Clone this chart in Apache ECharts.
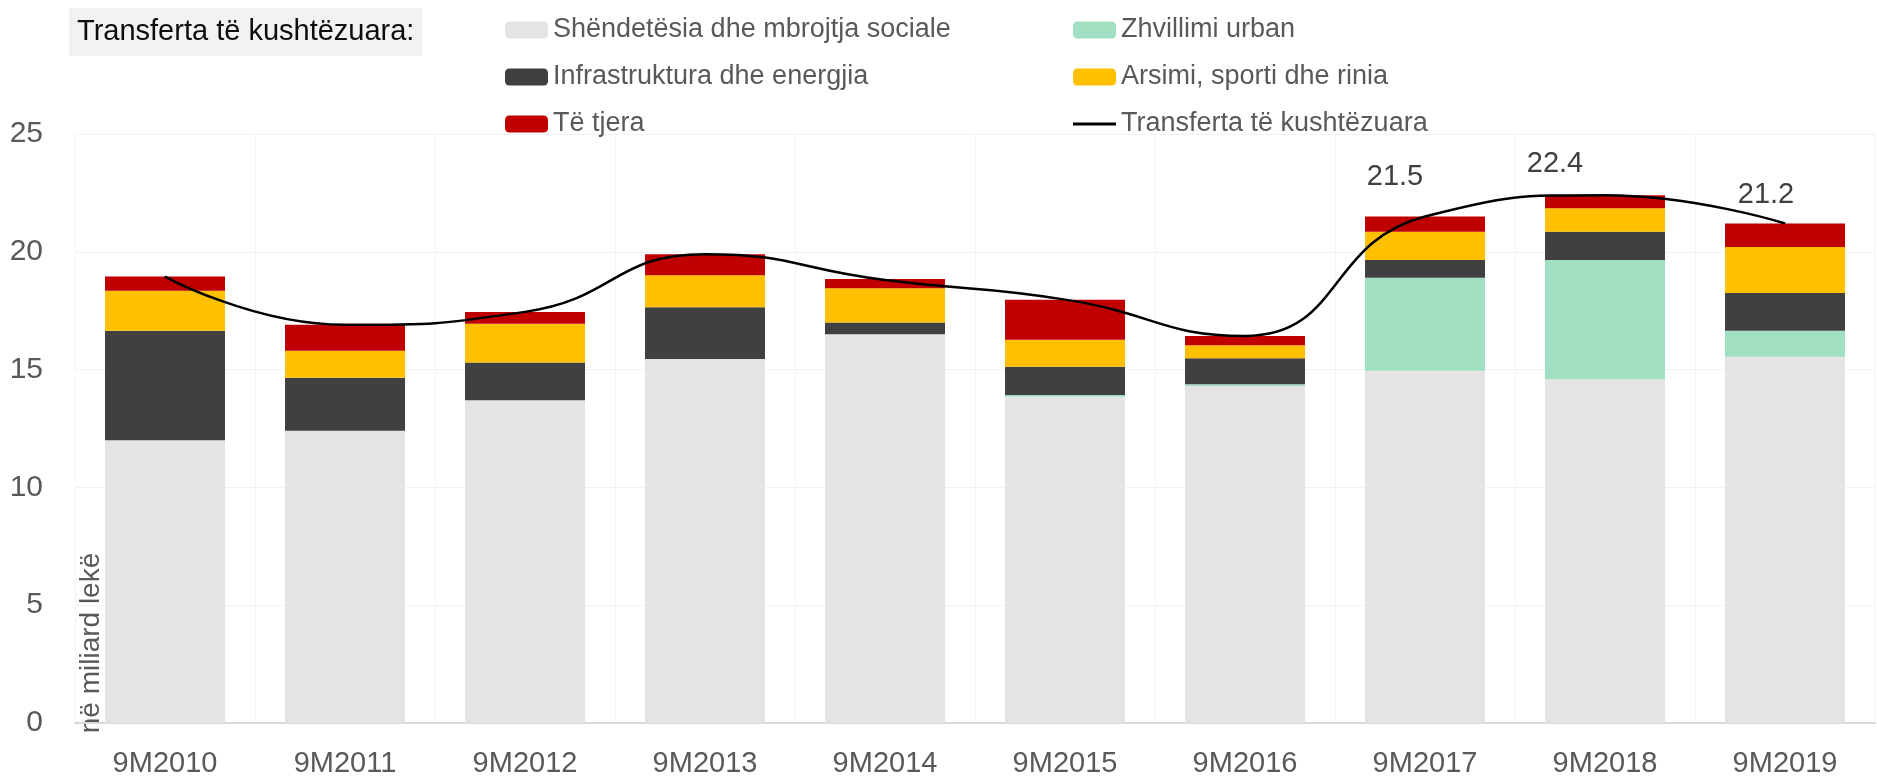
<!DOCTYPE html>
<html>
<head>
<meta charset="utf-8">
<title>Transferta të kushtëzuara</title>
<script src="https://cdn.jsdelivr.net/npm/echarts@6/dist/echarts.min.js"></script>
<style>
    html, body { margin: 0; padding: 0; background: #fff; }
    #chart { width: 1877px; height: 779px; }
</style>
</head>
<body>
<div id="chart"></div>
<script>
// të dhënat, në miliard lekë
var categories = ['9M2010', '9M2011', '9M2012', '9M2013', '9M2014', '9M2015', '9M2016', '9M2017', '9M2018', '9M2019'];
var shendetesia = [12.0, 12.4, 13.7, 15.45, 16.5, 13.85, 14.3, 14.95, 14.6, 15.55];
var urban = [0, 0, 0, 0, 0, 0.07, 0.08, 3.95, 5.05, 1.1];
var infrastruktura = [4.65, 2.25, 1.6, 2.2, 0.5, 1.2, 1.1, 0.75, 1.2, 1.6];
var arsimi = [1.7, 1.15, 1.65, 1.35, 1.45, 1.15, 0.55, 1.2, 1.0, 1.95];
var teTjera = [0.6, 1.1, 0.5, 0.9, 0.4, 1.7, 0.4, 0.65, 0.55, 1.0];
var totali = [18.95, 16.9, 17.45, 19.9, 18.8, 17.97, 16.43, 21.5, 22.4, 21.2];
var yTicks = [0, 5, 10, 15, 20, 25];

var font = "'Liberation Sans', Arial, sans-serif";

// etiketat shfaqen vetëm për tre vitet e fundit
var labelOffsets = { 7: [-30, -19], 8: [-50, -11], 9: [-19, -9] };

var myChart = echarts.init(document.getElementById('chart'));

function barSeries(name, data, color) {
    return {
        name: name,
        type: 'bar',
        stack: 'total',
        barWidth: 120,
        itemStyle: { color: color },
        emphasis: { disabled: true },
        data: data
    };
}

myChart.setOption({
    animation: false,
    backgroundColor: '#fff',
    title: {
        text: 'Transferta të kushtëzuara:',
        left: 69,
        top: 8,
        padding: [9, 8, 9, 8],
        backgroundColor: '#f2f2f2',
        textStyle: { fontFamily: font, fontSize: 29, fontWeight: 'normal', color: '#0d0d0d', lineHeight: 30 }
    },
    legend: [
        {
            orient: 'vertical',
            left: 505,
            top: 15,
            padding: 0,
            itemWidth: 43,
            itemHeight: 17,
            itemGap: 17,
            selectedMode: false,
            textStyle: { fontFamily: font, fontSize: 27, color: '#595959', lineHeight: 30 },
            data: ['Shëndetësia dhe mbrojtja sociale', 'Infrastruktura dhe energjia', 'Të tjera']
        },
        {
            orient: 'vertical',
            left: 1073,
            top: 15,
            padding: 0,
            itemWidth: 43,
            itemHeight: 17,
            itemGap: 17,
            selectedMode: false,
            textStyle: { fontFamily: font, fontSize: 27, color: '#595959', lineHeight: 30 },
            data: [
                'Zhvillimi urban',
                'Arsimi, sporti dhe rinia',
                { name: 'Transferta të kushtëzuara', icon: 'path://M0,0H43V3H0Z', itemStyle: { color: '#000' } }
            ]
        }
    ],
    grid: { left: 75, right: 2, top: 134, bottom: 56 },
    xAxis: {
        type: 'category',
        data: categories,
        axisLine: { lineStyle: { color: '#d9d9d9', width: 2 } },
        axisTick: { show: false },
        axisLabel: { fontFamily: font, fontSize: 29, color: '#595959', margin: 26 },
        splitLine: { show: true, interval: 0, lineStyle: { color: '#f3f3f3', width: 1 } }
    },
    yAxis: {
        type: 'value',
        min: yTicks[0],
        max: yTicks[yTicks.length - 1],
        interval: 5,
        axisLine: { show: false },
        axisTick: { show: false },
        axisLabel: { fontFamily: font, fontSize: 30, color: '#595959', margin: 32 },
        splitLine: { lineStyle: { color: '#f2f2f2', width: 1 } }
    },
    graphic: [{
        type: 'text',
        x: 91,
        y: 643,
        rotation: Math.PI / 2,
        style: {
            text: 'në miliard lekë',
            fontFamily: font,
            fontSize: 28,
            fill: '#595959',
            align: 'center',
            verticalAlign: 'middle'
        }
    }],
    series: [
        barSeries('Shëndetësia dhe mbrojtja sociale', shendetesia, '#e4e4e4'),
        barSeries('Zhvillimi urban', urban, '#a0dfc2'),
        barSeries('Infrastruktura dhe energjia', infrastruktura, '#404040'),
        barSeries('Arsimi, sporti dhe rinia', arsimi, '#ffc000'),
        barSeries('Të tjera', teTjera, '#c00000'),
        {
            name: 'Transferta të kushtëzuara',
            type: 'line',
            smooth: 0.5,
            symbol: 'circle',
            symbolSize: 1,
            itemStyle: { color: '#000' },
            lineStyle: { color: '#000', width: 2.5 },
            emphasis: { disabled: true },
            z: 5,
            data: totali.map(function (v, i) {
                var off = labelOffsets[i];
                if (!off) return v;
                return {
                    value: v,
                    label: {
                        show: true,
                        position: 'top',
                        offset: off,
                        fontFamily: font,
                        fontSize: 29,
                        color: '#404040',
                        formatter: function (p) { return p.value.toFixed(1); }
                    }
                };
            })
        }
    ]
});
</script>
</body>
</html>
